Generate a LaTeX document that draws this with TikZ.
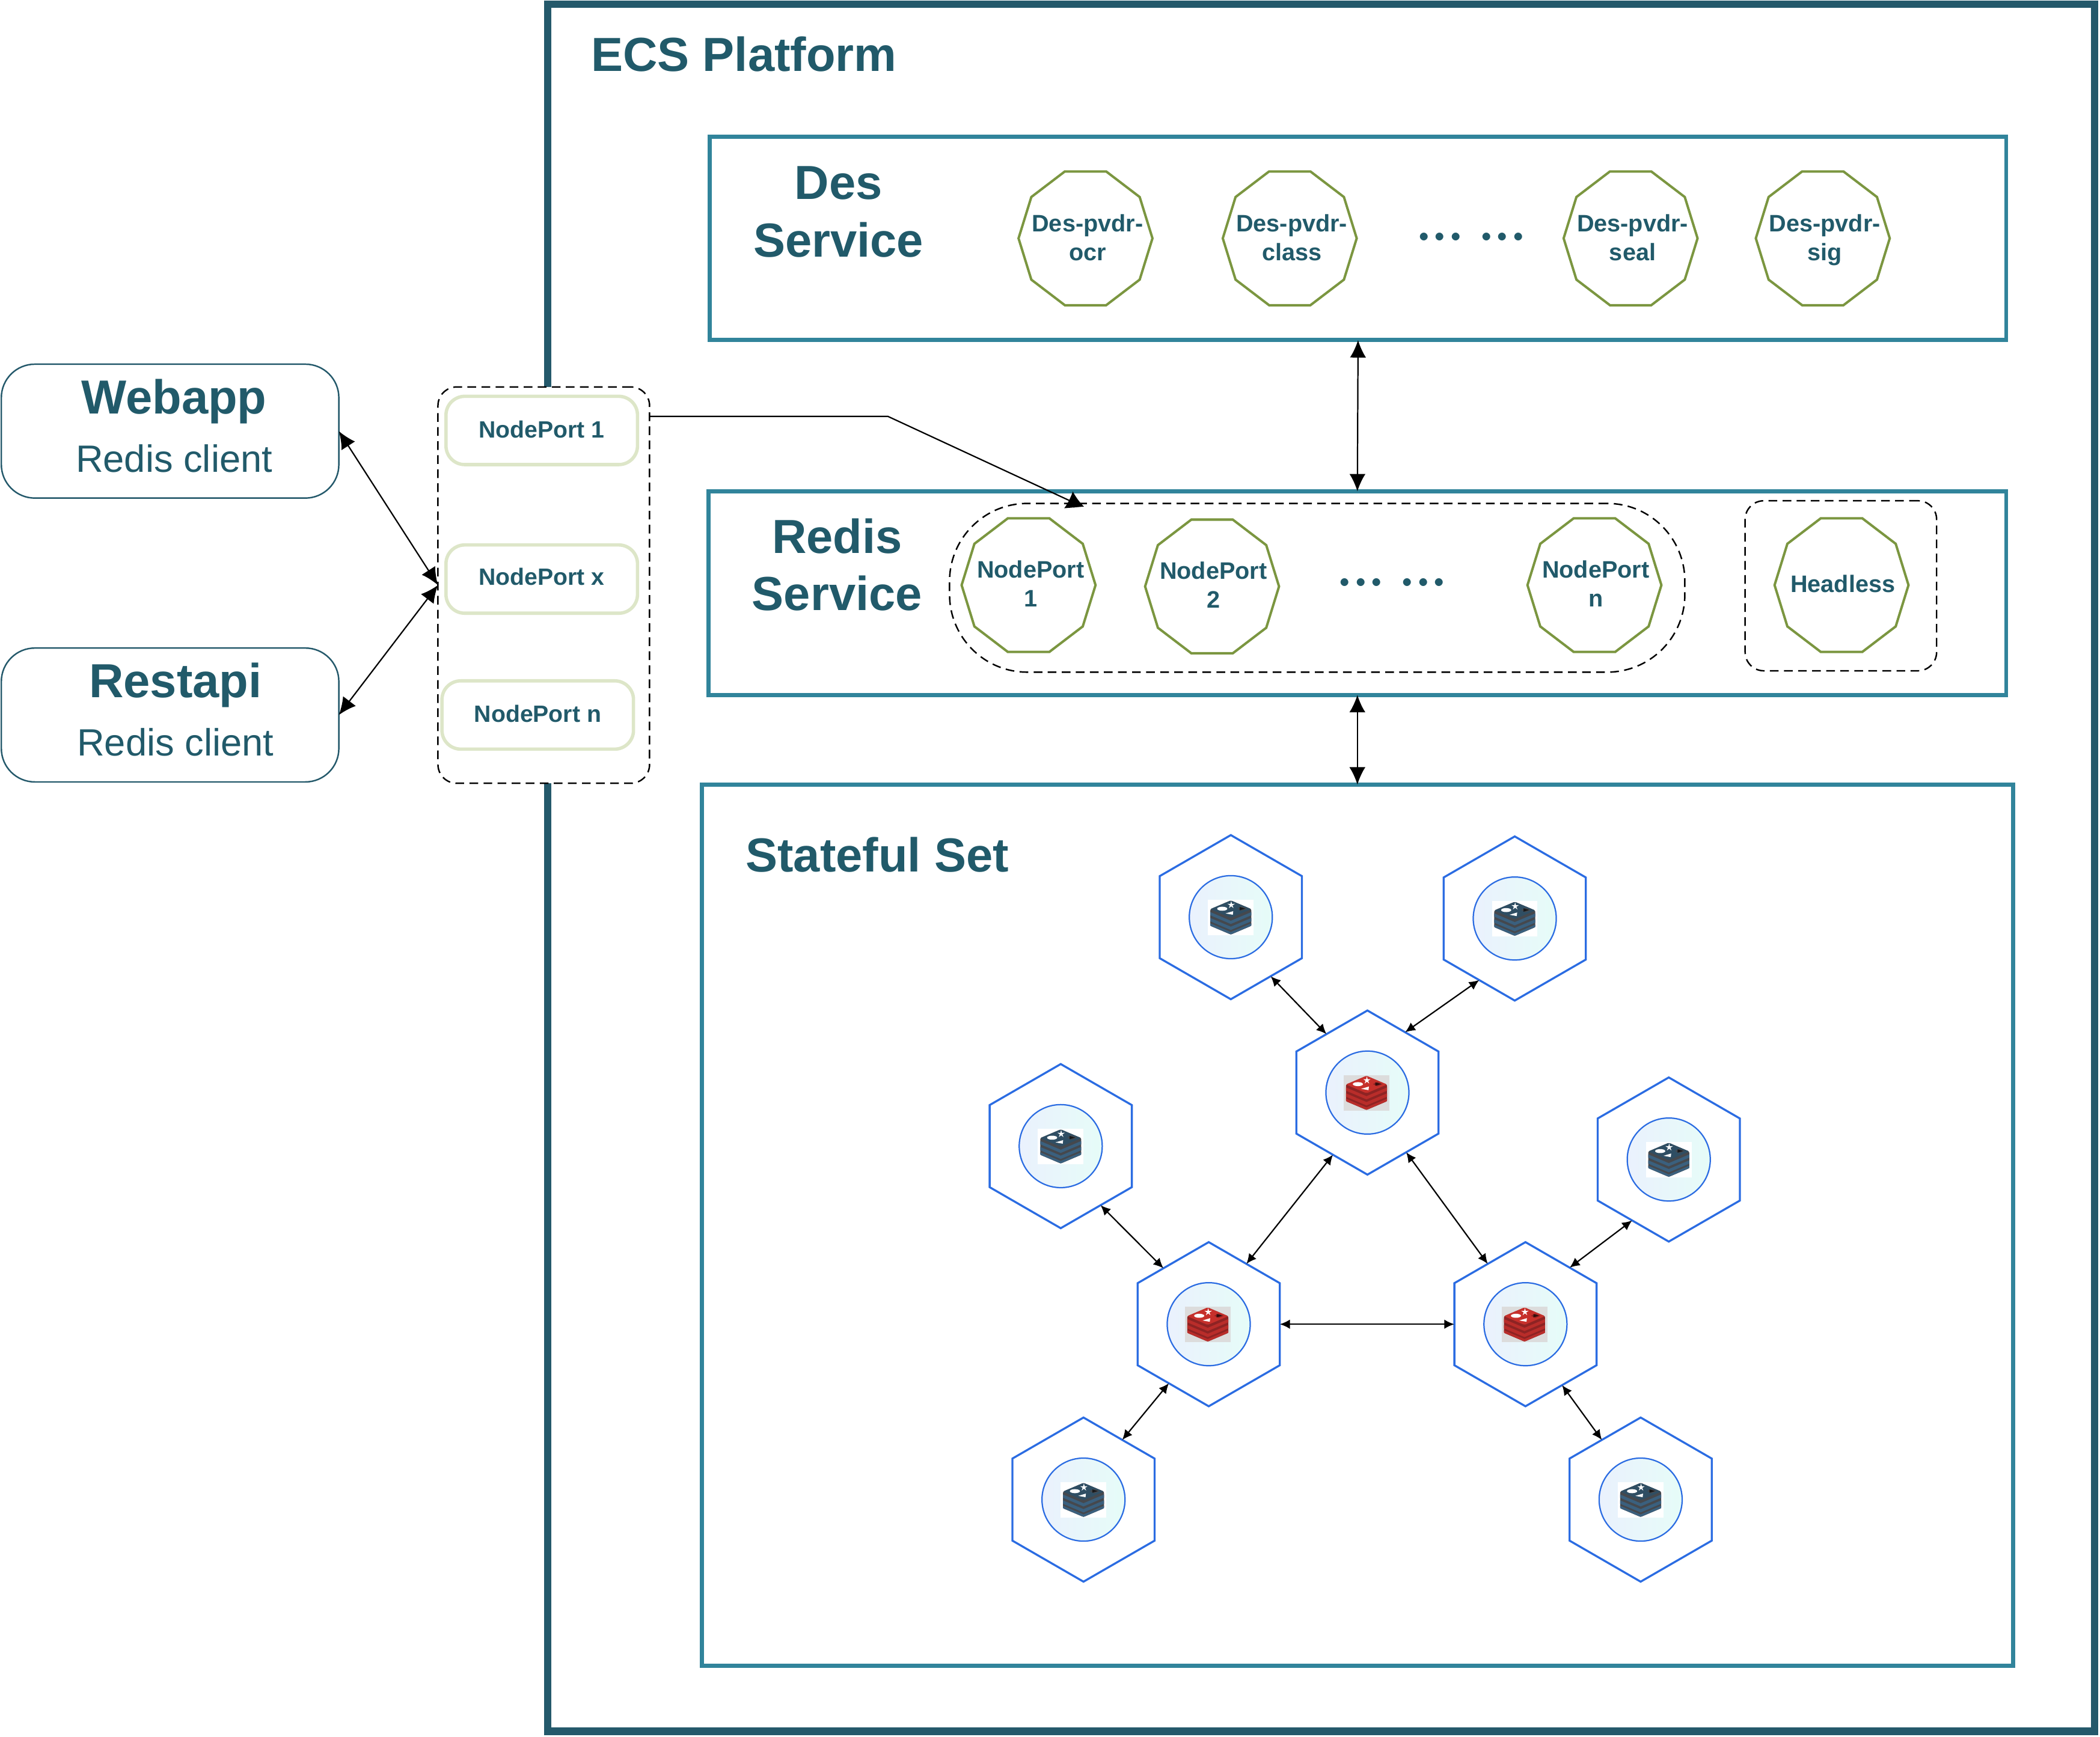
\documentclass[tikz,border=0pt]{standalone}
\usepackage{fontspec}
\setmainfont{Liberation Sans}
\usepackage{xcolor}
\usetikzlibrary{arrows.meta}
\usetikzlibrary{shapes.geometric}

\definecolor{tealink}{HTML}{215A6A}
\definecolor{frameteal}{HTML}{24596B}
\definecolor{boxteal}{HTML}{31849B}
\definecolor{podblue}{HTML}{2B6CE2}
\definecolor{olive}{HTML}{7B9640}
\definecolor{paleolive}{HTML}{DDE6C8}
\definecolor{corewest}{HTML}{EAF1FD}
\definecolor{coreeast}{HTML}{E6FCF8}
\definecolor{stacktopred}{HTML}{C6302B}
\definecolor{stackbandred}{HTML}{B92D2A}
\definecolor{stackgapred}{HTML}{8E2323}
\definecolor{stacktopblue}{HTML}{2F4E63}
\definecolor{stackbandblue}{HTML}{3A607E}
\definecolor{stackgapblue}{HTML}{45484D}
\definecolor{stackgray}{HTML}{DCDCDC}

\tikzset{
  headtext/.style={anchor=base,text=tealink,font=\fontsize{35.7}{43}\selectfont\bfseries},
  subtext/.style={anchor=base,text=tealink,font=\fontsize{28.4}{34}\selectfont},
  porttext/.style={anchor=base,text=tealink,font=\fontsize{17.6}{21}\selectfont\bfseries},
  dotstext/.style={anchor=base,text=tealink,scale=1.5,transform shape,font=\fontsize{24.88}{30}\selectfont\boldmath},
  polytext/.style={align=center,text=tealink,inner sep=0,font=\fontsize{17.8}{21.5}\selectfont\bfseries},
  svcbox/.style={draw=boxteal,line width=3,inner sep=0,outer sep=0},
  clientbox/.style={draw=frameteal,line width=1.1,rounded corners=25,fill=white,
    minimum width=252,minimum height=100,inner sep=0,outer sep=0},
  portbox/.style={draw=paleolive,line width=2.5,rounded corners=14,
    minimum width=143,minimum height=51,inner sep=0,outer sep=0},
  groupbox/.style={draw=black,line width=1.1,dash pattern=on 6.5pt off 4pt,inner sep=0,outer sep=0},
  decagon/.style={regular polygon,regular polygon sides=10,minimum size=100,inner sep=0,outer sep=0,
    draw=olive,line width=1.8,yscale=1.05,transform shape},
  podhex/.style={regular polygon,regular polygon sides=6,shape border rotate=30,minimum size=122.6,
    inner sep=0,outer sep=0,draw=podblue,line width=1.5},
  podcore/.style={circle,minimum size=62,inner sep=0,outer sep=0,draw=podblue,line width=1,
    left color=corewest,right color=coreeast},
  bigarrow/.style={line width=1,{Latex[length=13pt,width=12pt]}-{Latex[length=13pt,width=12pt]}},
  podarrow/.style={line width=1,{Latex[length=7.5pt,width=7pt]}-{Latex[length=7.5pt,width=7pt]}},
}

% stacked database icon, drawn at a hexagon
\newcommand{\stackicon}[6]{
  \begin{scope}[shift={(#1)},xshift=#6pt]
    \fill[#5] (-17,-13) rectangle (17,13.5);
    \fill[#4,rounded corners=1] (-15.3,-6) -- (0,-12.5) -- (15.3,-6) -- (15.3,6.5)
      -- (0,13) -- (-15.3,6.5) -- cycle;
    \fill[#3] (-15.3,-3.8) -- (0,2.7) -- (15.3,-3.8) -- (15.3,-1.4) -- (0,5.1) -- (-15.3,-1.4) -- cycle;
    \fill[#3] (-15.3,0.6) -- (0,7.1) -- (15.3,0.6) -- (15.3,3.1) -- (0,9.6) -- (-15.3,3.1) -- cycle;
    \fill[#3] (-15.3,4.6) -- (0,11.1) -- (15.3,4.6) -- (15.3,6.4) -- (0,12.9) -- (-15.3,6.4) -- cycle;
    \fill[#2,rounded corners=0.8] (-15.3,-6) -- (0,-12.5) -- (15.3,-6) -- (0,0.5) -- cycle;
    \fill[white] (-6.4,-6.3) ellipse [x radius=3.8,y radius=1.5];
    \fill[white] (0.3,-9.1) +(-90:2.9) -- +(-54:1) -- +(-18:2.9) -- +(18:1) -- +(54:2.9)
      -- +(90:1) -- +(126:2.9) -- +(162:1) -- +(198:2.9) -- +(234:1) -- cycle;
    \fill[white] (-3.9,-2.8) -- (1.8,-4.5) -- (1.5,-1.8) -- cycle;
    \fill[#4] (4.8,-6.3) -- (8,-8) -- (12,-6.3) -- (8,-4.7) -- cycle;
    \fill[black!65!#4] (6.6,-7.6) -- (10.8,-6.4) -- (6.6,-5.1) -- cycle;
  \end{scope}
}
\newcommand{\mastericon}[1]{\stackicon{#1}{stacktopred}{stackbandred}{stackgapred}{stackgray}{-0.7}}
\newcommand{\replicaicon}[1]{\stackicon{#1}{stacktopblue}{stackbandblue}{stackgapblue}{white}{0}}

\begin{document}
\begin{tikzpicture}[x=1pt,y=-1pt]
  \useasboundingbox (0,0) rectangle (1568,1297.3);
  % platform frame and the three inner boxes
  \node[draw=frameteal,line width=5.5,inner sep=0,outer sep=0,minimum width=1155,minimum height=1290] (platform) at (986.5,648) {};
  \node[headtext] (platformtitle) at (555.5,53) {ECS Platform};
  \node[svcbox,minimum width=968,minimum height=152] (desbox) at (1014,178) {};
  \node[svcbox,minimum width=969,minimum height=152] (redisbox) at (1013.5,443) {};
  \node[svcbox,minimum width=979,minimum height=658] (setbox) at (1013.5,915) {};
  \node[headtext] (destitle) at (626,149) {Des};
  \node[headtext] (desservice) at (626,192) {Service};
  \node[headtext] (redistitle) at (625,413) {Redis};
  \node[headtext] (redisservice) at (625,456) {Service};
  \node[headtext] (settitle) at (655,651) {Stateful Set};
  %
  \node[decagon] (desocr) at (810.5,178) {};
  \node[polytext] (desocrtext) at (812,180.4) {Des-pvdr-\\ocr\strut};
  \node[decagon] (desclass) at (963,178) {};
  \node[polytext] (desclasstext) at (964.5,180.4) {Des-pvdr-\\class\strut};
  \node[dotstext] (desdots) at (1098.5,180) {$...\hspace{7.3pt}...$};
  \node[decagon] (desseal) at (1217.5,178) {};
  \node[polytext] (desealtext) at (1219,180.4) {Des-pvdr-\\seal\strut};
  \node[decagon] (dessig) at (1361,178) {};
  \node[polytext] (dessigtext) at (1362.5,180.4) {Des-pvdr-\\sig\strut};
  %
  \node[groupbox,rounded corners=58,minimum width=549,minimum height=126] (portsgroup) at (983.5,439) {};
  \node[groupbox,rounded corners=14,minimum width=143,minimum height=127] (headlessgroup) at (1374.5,437.5) {};
  \node[decagon] (redisone) at (768,437) {};
  \node[polytext] (redisonetext) at (769.5,439.2) {NodePort\\1\strut};
  \node[decagon] (redistwo) at (905,438) {};
  \node[polytext] (redistwotext) at (906,440) {NodePort\\2\strut};
  \node[dotstext] (redisdots) at (1039.5,438) {$...\hspace{7.3pt}...$};
  \node[decagon] (redisn) at (1190.5,437) {};
  \node[polytext] (redisntext) at (1191.5,439.2) {NodePort\\n\strut};
  \node[decagon] (headless) at (1375,437) {};
  \node[polytext,anchor=base] (headlesstext) at (1376,442.5) {Headless};
  % clients and their ports
  \node[clientbox] (webapp) at (127,322) {};
  \node[headtext] (webappname) at (130,309) {Webapp};
  \node[subtext] (webappsub) at (130,352.6) {Redis client};
  \node[clientbox] (restapi) at (127,534) {};
  \node[headtext] (restapiname) at (131,521) {Restapi};
  \node[subtext] (restapisub) at (131,564.5) {Redis client};
  \node[groupbox,fill=white,rounded corners=14,minimum width=158,minimum height=296] (portcolumn) at (406,437) {};
  \node[portbox] (portone) at (404.5,321.5) {};
  \node[porttext] (portonetext) at (404.5,327) {NodePort 1};
  \node[portbox] (portx) at (404.5,432.5) {};
  \node[porttext] (portxtext) at (404.5,437) {NodePort x};
  \node[portbox] (portn) at (401.5,534) {};
  \node[porttext] (portntext) at (401.5,539.5) {NodePort n};
  % stateful set pods
  \node[podhex] (masterA) at (1021,816) {};
  \node[podhex] (masterB) at (902.5,989) {};
  \node[podhex] (masterC) at (1139,989) {};
  \node[podhex] (replicaA) at (919,685) {};
  \node[podhex] (replicaB) at (1131,686) {};
  \node[podhex] (replicaC) at (792,856) {};
  \node[podhex] (replicaD) at (1246,866) {};
  \node[podhex] (replicaE) at (809,1120) {};
  \node[podhex] (replicaF) at (1225,1120) {};
  \node[podcore] (coreA) at (masterA) {};
  \node[podcore] (coreB) at (masterB) {};
  \node[podcore] (coreC) at (masterC) {};
  \node[podcore] (coreD) at (replicaA) {};
  \node[podcore] (coreE) at (replicaB) {};
  \node[podcore] (coreF) at (replicaC) {};
  \node[podcore] (coreG) at (replicaD) {};
  \node[podcore] (coreH) at (replicaE) {};
  \node[podcore] (coreI) at (replicaF) {};
  \mastericon{masterA}
  \mastericon{masterB}
  \mastericon{masterC}
  \replicaicon{replicaA}
  \replicaicon{replicaB}
  \replicaicon{replicaC}
  \replicaicon{replicaD}
  \replicaicon{replicaE}
  \replicaicon{replicaF}
  % connectors
  \draw[bigarrow] (desbox.south) -- (redisbox.north);
  \draw[bigarrow] (redisbox.south) -- (setbox.north);
  \draw[bigarrow] (webapp.east) -- (portcolumn.west);
  \draw[bigarrow] (restapi.east) -- (portcolumn.west);
  \coordinate (linebend) at (663,311);
  \coordinate (linehead) at (801,375);
  \coordinate (headbase) at (802,379);
  \coordinate (headapex) at (801,367);
  \draw[line width=1] (portcolumn.east |- linebend) -- (linebend) -- (linehead);
  \draw[line width=1,-{Latex[length=12pt,width=15pt]}] (headbase) -- (headapex);
  \draw[podarrow] (replicaA.-56.6) -- (masterA.125.4);
  \draw[podarrow] (replicaB.240.5) -- (masterA.58);
  \draw[podarrow] (replicaC.-56.6) -- (masterB.129);
  \draw[podarrow] (masterA.-119) -- (masterB.58);
  \draw[podarrow] (masterA.-57.5) -- (masterC.122);
  \draw[podarrow] (masterB.east) -- (masterC.west);
  \draw[podarrow] (replicaD.-121) -- (masterC.52);
  \draw[podarrow] (masterB.-124) -- (replicaE.57);
  \draw[podarrow] (masterC.-59) -- (replicaF.123.7);
\end{tikzpicture}
\end{document}
